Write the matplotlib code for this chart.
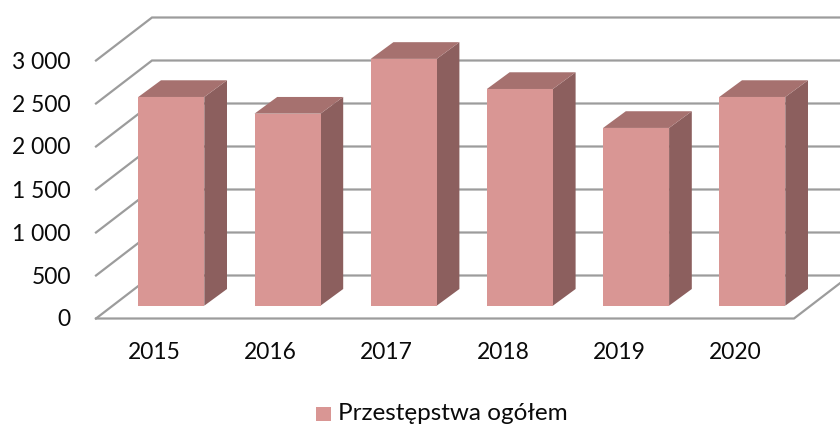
import matplotlib as mp
mp.use('Agg')
import matplotlib.pyplot as plt
from matplotlib.patches import Polygon, Rectangle

years = ['2015', '2016', '2017', '2018', '2019', '2020']
crimes = [2427, 2233, 2870, 2520, 2067, 2427]
ticks = [0, 500, 1000, 1500, 2000, 2500, 3000]
tick_labels = ['0', '500', '1 000', '1 500', '2 000', '2 500', '3 000']
series_name = 'Przestępstwa ogółem'

plt.rcParams['font.family'] = ['Lato', 'DejaVu Sans']

# the chart is a fake 3d box, so work in pixels and scale the values by hand
px_per_unit = 258 / 3000
floor_front = 318.5
wall_dx, wall_dy = 56, -43
left, right = 96, 794
bar_left, bar_pitch, bar_w = 138.3, 116.2, 66
bar_base = 305.7
bar_dx, bar_dy = 22.7, -16.7

face_col = '#D99694'
side_col = '#8C5F5E'
top_col = '#A6716F'
grid_col = '#9C9C9C'
text_col = '#0A0A0A'

fig = plt.figure(figsize=(8.4, 4.25), dpi=100)
ax = fig.add_axes([0, 0, 1, 1])
ax.set_xlim(0, 840)
ax.set_ylim(425, 0)
ax.set_axis_off()


def val_y(v):
    return floor_front - v * px_per_unit


for t, lab in zip(ticks, tick_labels):
    y = val_y(t)
    # side wall + back wall of each gridline
    ax.plot([left, left + wall_dx, 840], [y, y + wall_dy, y + wall_dy],
            color=grid_col, lw=1.6, solid_joinstyle='miter', zorder=1)
    ax.text(71, y + 1.5, lab, ha='right', va='center', fontsize=16.5, color=text_col)

# floor edge
ax.plot([left, right, right + wall_dx], [floor_front, floor_front, floor_front + wall_dy],
        color=grid_col, lw=1.6, solid_joinstyle='miter', zorder=1)

for i, (year, v) in enumerate(zip(years, crimes)):
    x0 = bar_left + i * bar_pitch
    x1 = x0 + bar_w
    top = bar_base - v * px_per_unit
    ax.add_patch(Polygon([(x1, bar_base), (x1 + bar_dx, bar_base + bar_dy),
                          (x1 + bar_dx, top + bar_dy), (x1, top)],
                         closed=True, fc=side_col, ec='none', zorder=2))
    ax.add_patch(Polygon([(x0, top), (x0 + bar_dx, top + bar_dy),
                          (x1 + bar_dx, top + bar_dy), (x1, top)],
                         closed=True, fc=top_col, ec='none', zorder=2))
    ax.add_patch(Rectangle((x0, top), bar_w, bar_base - top, fc=face_col, ec='none', zorder=3))
    ax.text(x0 + bar_w / 2 - 17, 352.5, year, ha='center', va='center', fontsize=16.4, color=text_col)

# legend
ax.add_patch(Rectangle((316, 406.5), 15, 14, fc=face_col, ec='none'))
ax.text(338, 413.5, series_name, ha='left', va='center', fontsize=17.5, color=text_col)

fig.savefig('out.png', dpi=100)
